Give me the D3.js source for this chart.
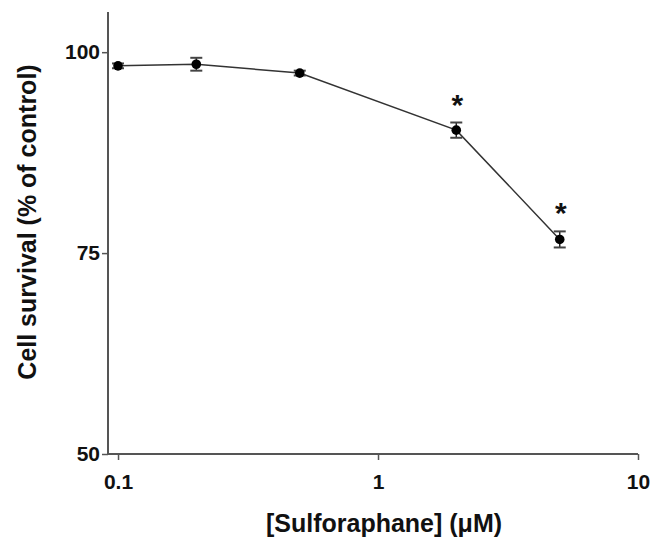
<!DOCTYPE html>
<html>
<head>
<meta charset="utf-8">
<script src="https://cdn.jsdelivr.net/npm/d3@7"></script>
<style>
  body { margin: 0; background: #fff; }
  svg text { font-family: "Liberation Sans", Arial, sans-serif; font-weight: bold; fill: #111; }
</style>
</head>
<body>
<svg id="chart" width="657" height="541"></svg>
<script>
// Concentrations (uM) and cell survival (% of control).
const concentrations = [0.1, 0.2, 0.5, 2, 5];
const survival = [98.3, 98.5, 97.4, 90.3, 76.7];
const errors = [0.3, 0.8, 0.3, 0.95, 1.0];
const significant = [false, false, false, true, true];

const xTicks = [0.1, 1, 10];
const xTickLabels = ["0.1", "1", "10"];
const yTicks = [50, 75, 100];

const LEFT = 108;
const RIGHT = 638;
const TOP = 12;
const BOTTOM = 454;

const svg = d3.select("#chart");

const x = d3.scaleLog()
  .domain([0.0915, 10])
  .range([LEFT, RIGHT]);

const y = d3.scaleLinear()
  .domain([50, 105])
  .range([BOTTOM, TOP]);

const axisColor = "#555";

// Axis lines and ticks
const addAxes = () => {
  svg.append("line")
    .attr("x1", LEFT).attr("x2", LEFT)
    .attr("y1", TOP).attr("y2", BOTTOM)
    .attr("stroke", axisColor).attr("stroke-width", 2);

  svg.append("line")
    .attr("x1", LEFT).attr("x2", RIGHT)
    .attr("y1", BOTTOM).attr("y2", BOTTOM)
    .attr("stroke", axisColor).attr("stroke-width", 2);

  const yAxis = d3.axisLeft(y)
    .tickValues(yTicks)
    .tickSize(6)
    .tickPadding(2);

  const gy = svg.append("g")
    .attr("transform", `translate(${LEFT},0)`)
    .call(yAxis);
  gy.select(".domain").remove();
  gy.selectAll(".tick line").attr("stroke", axisColor).attr("stroke-width", 1.5);
  gy.selectAll(".tick text")
    .style("font-size", "21px")
    .attr("fill", "#111");

  const xAxis = d3.axisBottom(x)
    .tickValues(xTicks)
    .tickFormat((d, i) => xTickLabels[i])
    .tickSize(6)
    .tickPadding(14);

  const gx = svg.append("g")
    .attr("transform", `translate(0,${BOTTOM})`)
    .call(xAxis);
  gx.select(".domain").remove();
  gx.selectAll(".tick line").attr("stroke", axisColor).attr("stroke-width", 1.5);
  gx.selectAll(".tick text")
    .style("font-size", "21px")
    .attr("fill", "#111");
};

const addTitles = () => {
  svg.append("text")
    .attr("x", 384)
    .attr("y", 532)
    .attr("text-anchor", "middle")
    .style("font-size", "25px")
    .text("[Sulforaphane] (\u03bcM)");

  svg.append("text")
    .attr("transform", "translate(36,222) rotate(-90)")
    .attr("text-anchor", "middle")
    .style("font-size", "25px")
    .text("Cell survival (% of control)");
};

const addSeries = () => {
  const data = concentrations.map((c, i) => ({
    c, v: survival[i], e: errors[i], sig: significant[i]
  }));

  const line = d3.line()
    .x(d => x(d.c))
    .y(d => y(d.v));

  svg.append("path")
    .datum(data)
    .attr("d", line)
    .attr("fill", "none")
    .attr("stroke", "#333")
    .attr("stroke-width", 1.5);

  const capHalf = 6;
  const bars = svg.append("g")
    .selectAll("g")
    .data(data)
    .enter()
    .append("g");

  bars.append("line")
    .attr("x1", d => x(d.c)).attr("x2", d => x(d.c))
    .attr("y1", d => y(d.v + d.e)).attr("y2", d => y(d.v - d.e))
    .attr("stroke", "#222").attr("stroke-width", 1.5);

  bars.append("line")
    .attr("x1", d => x(d.c) - capHalf).attr("x2", d => x(d.c) + capHalf)
    .attr("y1", d => y(d.v + d.e)).attr("y2", d => y(d.v + d.e))
    .attr("stroke", "#444").attr("stroke-width", 2);

  bars.append("line")
    .attr("x1", d => x(d.c) - capHalf).attr("x2", d => x(d.c) + capHalf)
    .attr("y1", d => y(d.v - d.e)).attr("y2", d => y(d.v - d.e))
    .attr("stroke", "#444").attr("stroke-width", 2);

  bars.append("circle")
    .attr("cx", d => x(d.c))
    .attr("cy", d => y(d.v))
    .attr("r", 4.8)
    .attr("fill", "#000");

  // Asterisks over the significant points
  svg.append("g")
    .selectAll("text")
    .data(data.filter(d => d.sig))
    .enter()
    .append("text")
    .attr("x", d => x(d.c) + 1)
    .attr("y", d => y(d.v + d.e) - 8)
    .attr("text-anchor", "middle")
    .style("font-size", "30px")
    .text("*");
};

addAxes();
addTitles();
addSeries();
</script>
</body>
</html>
